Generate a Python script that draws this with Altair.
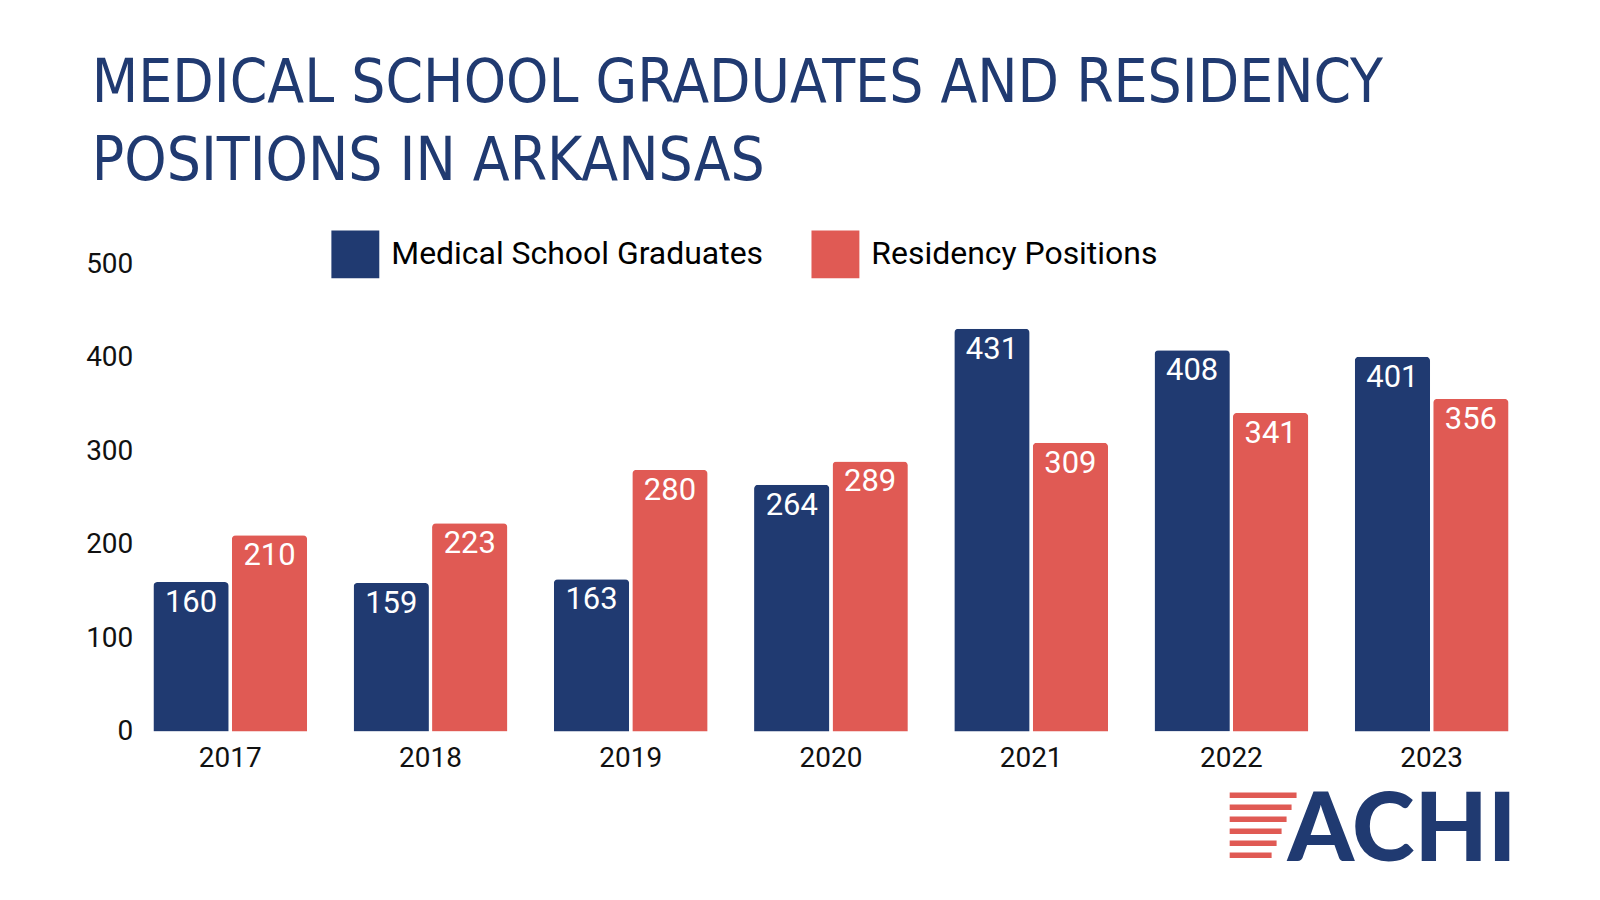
import altair as alt
import pandas as pd

years = ["2017", "2018", "2019", "2020", "2021", "2022", "2023"]
graduates = [160, 159, 163, 264, 431, 408, 401]
residency = [210, 223, 280, 289, 309, 341, 356]
series_names = ["Medical School Graduates", "Residency Positions"]
series_colors = ["#203a71", "#e05a54"]
title_lines = ["MEDICAL SCHOOL GRADUATES AND RESIDENCY", "POSITIONS IN ARKANSAS"]
logo_text = ["ACHI"]

rows = []
for y, g, r in zip(years, graduates, residency):
    rows.append({"year": y, "series": series_names[0], "value": g})
    rows.append({"year": y, "series": series_names[1], "value": r})
df = pd.DataFrame(rows)

NAVY = "#203a71"
RED = "#e05a54"

x_enc = alt.X("year:N", title=None, sort=years,
              scale=alt.Scale(paddingInner=0.232, paddingOuter=0.068),
              axis=alt.Axis(labelAngle=0, domain=False, ticks=False, labelFontSize=28,
                            labelFont="Roboto", labelColor="#111111", labelPadding=13))
xoff_enc = alt.XOffset("series:N", sort=series_names, scale=alt.Scale(paddingInner=0.04))
y_enc = alt.Y("value:Q", title=None, scale=alt.Scale(domain=[0, 500], nice=False),
              axis=alt.Axis(values=[0, 100, 200, 300, 400, 500], domain=False, ticks=False,
                            grid=False, labelFontSize=28, labelFont="Roboto",
                            labelColor="#111111", labelPadding=7))

base = alt.Chart(df)

bars = base.mark_bar(cornerRadiusTopLeft=4, cornerRadiusTopRight=4).encode(
    x=x_enc,
    xOffset=xoff_enc,
    y=y_enc,
    color=alt.Color("series:N", sort=series_names,
                    scale=alt.Scale(domain=series_names, range=series_colors),
                    legend=alt.Legend(title=None, orient="none", direction="horizontal",
                                      legendX=192, legendY=-34, symbolType="square",
                                      symbolSize=2304, symbolStrokeWidth=0,
                                      labelFontSize=32, labelFont="Roboto",
                                      labelColor="#000000", labelOffset=12,
                                      labelLimit=1000,
                                      columnPadding=48, padding=0)),
)

labels = base.mark_text(baseline="alphabetic", dy=30, color="white", fontSize=31,
                        font="Roboto").encode(
    x=alt.X("year:N", sort=years),
    xOffset=alt.XOffset("series:N", sort=series_names),
    y="value:Q",
    text="value:Q",
)

logo_df = pd.DataFrame({"t": logo_text})
logo = alt.Chart(logo_df).mark_text(align="left", baseline="alphabetic", fontSize=95,
                                    font="Lato", fontWeight=900, color=NAVY).encode(
    text="t:N", x=alt.value(1150), y=alt.value(598))

stripe_layers = []
stripe_specs = [(-32, 1092, 1159), (-20, 1092, 1154), (-8, 1092, 1149),
                (4, 1092, 1144), (16, 1092, 1139), (28, 1092, 1134)]
for dy_, x1, x2 in stripe_specs:
    stripe_layers.append(
        alt.Chart(logo_df).mark_rule(color=RED, strokeWidth=5.5).encode(
            x=alt.value(x1), x2=alt.value(x2), y=alt.value(564 + dy_)))

chart = alt.layer(bars, labels, logo, *stripe_layers).properties(
    width=1385, height=468,
    autosize=alt.AutoSizeParams(type="none"),
    padding={"left": 132, "top": 256, "right": 70, "bottom": 160},
    title=alt.TitleParams(text=title_lines, anchor="start", frame="group", dx=-48,
                          fontSize=60, font="DejaVu Sans Condensed",
                          fontWeight="normal", color=NAVY, lineHeight=78,
                          offset=38),
).configure(background="white").configure_view(stroke=None)

chart.save("out.html", embed_options={"renderer": "svg", "actions": False})
